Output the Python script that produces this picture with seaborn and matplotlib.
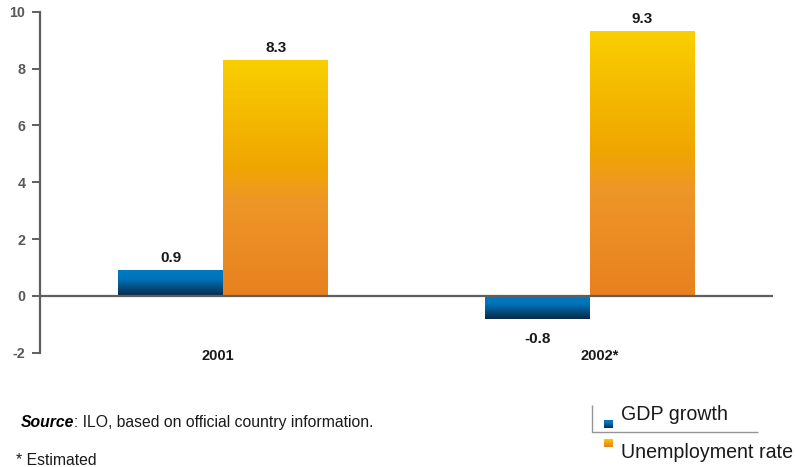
import numpy as np
import pandas as pd
import matplotlib
matplotlib.use("Agg")
import matplotlib.pyplot as plt
import matplotlib.transforms as mtransforms
from matplotlib.colors import LinearSegmentedColormap
import seaborn as sns

# Data
years = ["2001", "2002*"]
gdp_growth = [0.9, -0.8]
unemployment_rate = [8.3, 9.3]
series_names = ["GDP growth", "Unemployment rate"]
y_ticks = [-2, 0, 2, 4, 6, 8, 10]

df = pd.DataFrame({
    "year": years * 2,
    "value": gdp_growth + unemployment_rate,
    "series": [series_names[0]] * len(years) + [series_names[1]] * len(years),
})

sns.set_theme(style="white")
plt.rcParams["font.family"] = ["Liberation Sans", "DejaVu Sans"]

# Vertical gradients, top colour first
blue_grad = LinearSegmentedColormap.from_list(
    "blue_grad", [(0.0, "#007AC3"), (0.35, "#0073B8"), (1.0, "#0A2846")])
orange_grad = LinearSegmentedColormap.from_list(
    "orange_grad", [(0.0, "#F9CF00"), (0.45, "#F0A600"), (0.6, "#EE9628"), (1.0, "#E8811E")])
gradients = {series_names[0]: blue_grad, series_names[1]: orange_grad}

AXIS_GREY = "#5F5F5F"
TEXT_DARK = "#1A1A1A"

fig = plt.figure(figsize=(7.95, 4.67), dpi=100)
ax = fig.add_axes([40 / 795, 1 - 352.7 / 467, (773 - 40) / 795, (352.7 - 11.7) / 467])

sns.barplot(data=df, x="year", y="value", hue="series", hue_order=series_names,
            palette=["#0079C2", "#F0A600"], width=0.572, saturation=1,
            legend=False, ax=ax)

ax.set_xlim(-0.5, 1.5)
ax.set_ylim(-2, 10)


def gradient_column(cmap, n=256):
    return cmap(np.linspace(0, 1, n))[:, None, :]


# Replace flat bar fills with vertical gradients and add value labels
for name, container in zip(series_names, ax.containers):
    for patch, val in zip(container.patches, container.datavalues):
        x0 = patch.get_x()
        w = patch.get_width()
        top = max(0, val)
        bottom = min(0, val)
        ax.imshow(gradient_column(gradients[name]), extent=(x0, x0 + w, bottom, top),
                  origin="upper", aspect="auto", zorder=2, interpolation="bilinear")
        patch.set_visible(False)
        xc = x0 + w / 2
        offset = 9.0 if val >= 0 else -14.4
        ax.annotate(f"{val:.1f}", (xc, val), xytext=(0, offset), textcoords="offset points",
                    ha="center", va="center", fontsize=11, fontweight="bold",
                    color=TEXT_DARK)

ax.set_xlim(-0.5, 1.5)
ax.set_ylim(-2, 10)

# Zero line across the plot
ax.axhline(0, color=AXIS_GREY, lw=1.6, zorder=3)

# Axes styling
for side in ["top", "right", "bottom"]:
    ax.spines[side].set_visible(False)
ax.spines["left"].set_color(AXIS_GREY)
ax.spines["left"].set_linewidth(1.6)
ax.set_yticks(y_ticks)
ax.set_yticklabels([str(t) for t in y_ticks])
ax.tick_params(axis="y", direction="out", length=5.5, width=1.4, color=AXIS_GREY,
               pad=5, labelsize=10.3, labelcolor="#595959", left=True)
for lbl in ax.get_yticklabels():
    lbl.set_fontweight("bold")

ax.tick_params(axis="x", length=0, pad=-2.5, labelsize=10.5, labelcolor=TEXT_DARK)
for lbl, dx in zip(ax.get_xticklabels(), [-5, 10]):
    lbl.set_fontweight("bold")
    lbl.set_transform(lbl.get_transform() +
                      mtransforms.ScaledTranslation(dx / 100, 0, fig.dpi_scale_trans))
ax.set_xlabel("")
ax.set_ylabel("")
ax.grid(False)

# Overlay in pixel units for legend and notes
ov = fig.add_axes([0, 0, 1, 1], zorder=5)
ov.set_xlim(0, 795)
ov.set_ylim(467, 0)
ov.axis("off")
ov.patch.set_alpha(0)

# Legend
ov.plot([592, 592, 758], [405, 432, 432], color="#959595", lw=1.0, solid_capstyle="butt")
ov.imshow(gradient_column(blue_grad), extent=(604, 613, 428, 420), origin="upper",
          aspect="auto", zorder=6)
ov.imshow(gradient_column(orange_grad), extent=(604, 613, 447, 439), origin="upper",
          aspect="auto", zorder=6)
ov.set_xlim(0, 795)
ov.set_ylim(467, 0)
ov.text(621, 420, series_names[0], fontsize=14.1, color=TEXT_DARK, va="baseline", ha="left")
ov.text(621, 458, series_names[1], fontsize=14.1, color=TEXT_DARK, va="baseline", ha="left")

# Source and footnote
src = ov.text(21, 427, "Source", fontsize=11.3, fontweight="bold", fontstyle="italic",
              color="#000000", va="baseline", ha="left")
ov.annotate(": ILO, based on official country information.", xy=(1, 0), xycoords=src,
            va="bottom", ha="left", fontsize=11.3, color=TEXT_DARK)
ov.text(16, 465, "* Estimated", fontsize=11.3, color=TEXT_DARK, va="baseline", ha="left")

fig.savefig("out.png", dpi=100)
